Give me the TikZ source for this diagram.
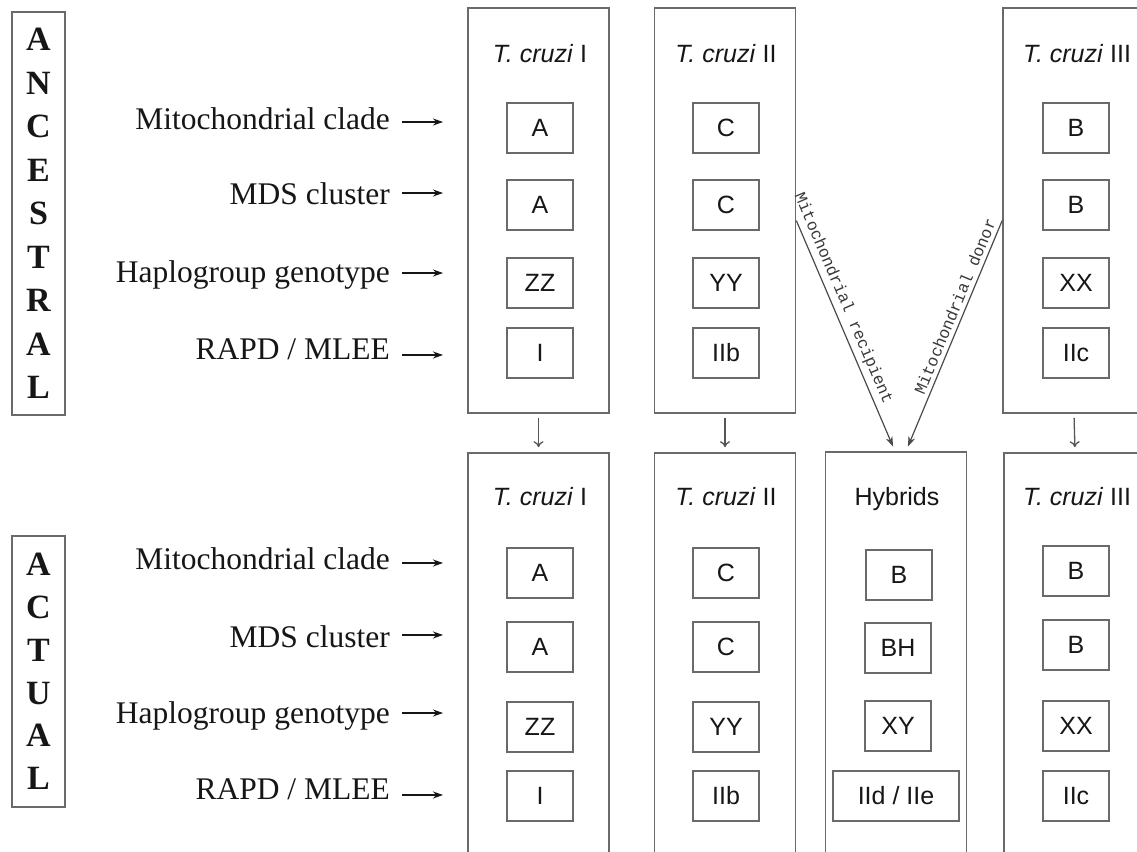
\documentclass[tikz,border=0pt]{standalone}
\usepackage{fontspec}
\setmainfont{Liberation Serif}
\newfontfamily\arialf{Liberation Sans}
\newfontfamily\monof{Liberation Mono}
\usetikzlibrary{arrows.meta}
\definecolor{ln}{HTML}{6A6A6A}
\definecolor{tx}{HTML}{161616}
\begin{document}
\begin{tikzpicture}[x=1pt,y=-1pt,
 outer/.style={draw=ln, line width=1.6pt, inner sep=0pt, minimum width=141pt},
 cell/.style={draw=ln, line width=1.6pt, minimum width=66pt, minimum height=50pt, inner sep=0pt, font=\arialf\fontsize{25}{30}\selectfont, text=tx},
 ttl/.style={font=\arialf\fontsize{25}{30}\selectfont, text=tx, anchor=base, inner sep=0pt},
 lab/.style={font=\fontsize{31.5}{36}\selectfont, text=tx, anchor=base east, inner sep=0pt},
 labarrow/.style={draw=tx, line width=1.3pt, -{Stealth[length=10pt,width=7pt]}},
 vert/.style={draw=ln!80!black, line width=1.3pt, -{To[length=6pt,width=10pt]}, shorten <=4pt, shorten >=5pt},
 diag/.style={draw=ln!70!black, line width=1.2pt, -{Stealth[length=10pt,width=7pt]}},
 dlab/.style={font=\monof\fontsize{16.5}{18}\selectfont, text=tx!85, sloped, above=2pt, inner sep=2pt},
 side/.style={draw=ln, line width=1.8pt, inner sep=0pt, minimum width=53pt, align=center, font=\bfseries\fontsize{34}{43.5}\selectfont, text=tx}
]
\useasboundingbox (0,0) rectangle (1137,851);
\fill[white] (0,0) rectangle (1137,851);
\clip (0,0) rectangle (1137,851);

% side labels
\node[side, minimum height=403pt] (anc) at (38.5,213.5) {A\\N\\C\\E\\S\\T\\R\\A\\L};
\node[side, minimum height=271pt, font=\bfseries\fontsize{34}{42.8}\selectfont] (act) at (38.5,671.5) {A\\C\\T\\U\\A\\L};

% outer boxes
\node[outer, minimum height=405pt] (c1t) at (538.5,210.5) {};
\node[outer, minimum height=405pt] (c2t) at (725,210.5) {};
\node[outer, minimum width=142pt, minimum height=405pt] (c3t) at (1074,210.5) {};
\node[outer, minimum height=417pt] (c1b) at (538.5,661.5) {};
\node[outer, minimum height=417pt] (c2b) at (725,661.5) {};
\node[outer, minimum height=418pt] (hyb) at (896,661) {};
\node[outer, minimum width=142pt, minimum height=417pt] (c3b) at (1075,661.5) {};

% titles
\node[ttl] (t1t) at (540,63) {\textit{T. cruzi} I};
\node[ttl] (t2t) at (726,63) {\textit{T. cruzi} II};
\node[ttl] (t3t) at (1077,63) {\textit{T. cruzi} III};
\node[ttl] (t1b) at (540,505) {\textit{T. cruzi} I};
\node[ttl] (t2b) at (726,505) {\textit{T. cruzi} II};
\node[ttl] (thb) at (897,505) {Hybrids};
\node[ttl] (t3b) at (1077,505) {\textit{T. cruzi} III};

% top cells
\foreach \y/\a/\b/\c [count=\i] in {128/A/C/B, 205/A/C/B, 283/ZZ/YY/XX, 353/I/IIb/IIc} {
  \node[cell] (ta\i) at (540,\y) {\a};
  \node[cell] (tb\i) at (726,\y) {\b};
  \node[cell] (tc\i) at (1076,\y) {\c};
}
% bottom cells
\foreach \y/\a/\b [count=\i] in {573/A/C, 647/A/C, 727/ZZ/YY, 796/I/IIb} {
  \node[cell] (ba\i) at (540,\y) {\a};
  \node[cell] (bb\i) at (726,\y) {\b};
}
\node[cell] (bh1) at (899,575) {B};
\node[cell] (bh2) at (898,648) {BH};
\node[cell] (bh3) at (898,726) {XY};
\node[cell, minimum width=126pt] (bh4) at (896,796) {IId / IIe};
\foreach \y/\c [count=\i] in {571/B, 645/B, 726/XX, 796/IIc} {
  \node[cell] (bc\i) at (1076,\y) {\c};
}

% row labels
\foreach \ay/\bl/\t [count=\i] in {122/129/{Mitochondrial clade}, 193/204/{MDS cluster}, 273/282/{Haplogroup genotype}, 355/359/{RAPD / MLEE}} {
  \node[lab] (lt\i) at (390,\bl) {\t};
  \coordinate (aet\i) at (443,\ay);
  \draw[labarrow] (lt\i.east |- aet\i) ++(12,0) -- (aet\i);
}
\foreach \ay/\bl/\t [count=\i] in {563/569/{Mitochondrial clade}, 635/647/{MDS cluster}, 713/723/{Haplogroup genotype}, 795/799/{RAPD / MLEE}} {
  \node[lab] (lb\i) at (390,\bl) {\t};
  \coordinate (aeb\i) at (443,\ay);
  \draw[labarrow] (lb\i.east |- aeb\i) ++(12,0) -- (aeb\i);
}

% vertical arrows
\draw[vert] (c1t.south) -- (c1b.north);
\draw[vert] (c2t.south) -- (c2b.north);
\draw[vert] (c3t.south) -- (c3b.north);

% diagonal arrows
\draw[diag, shorten >=5pt] ([yshift=-10pt]c2t.east) -- node[dlab, pos=0.36] {Mitochondrial recipient} ([xshift=-1pt]hyb.north);
\draw[diag, shorten >=5pt] ([yshift=-10pt]c3t.west) -- node[dlab, pos=0.39] {Mitochondrial donor} ([xshift=10pt]hyb.north);
\end{tikzpicture}
\end{document}
